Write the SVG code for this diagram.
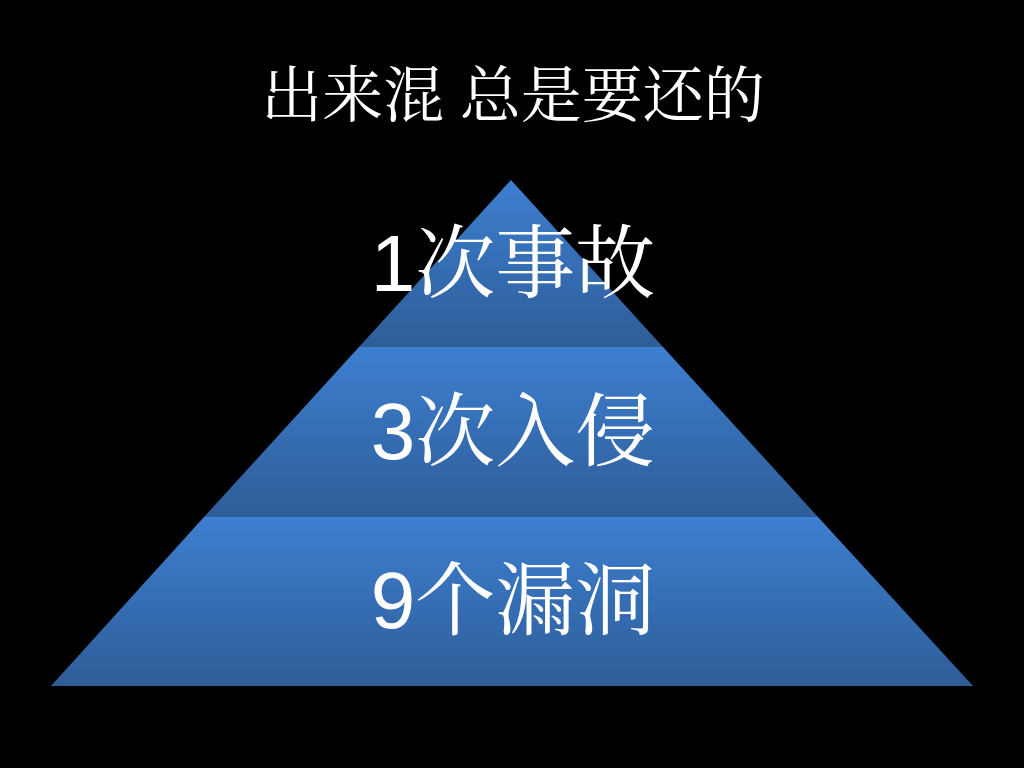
<svg xmlns="http://www.w3.org/2000/svg" width="1024" height="768" viewBox="0 0 1024 768">
<defs>
<linearGradient id="band" x1="0" y1="0" x2="0" y2="1">
<stop offset="0" stop-color="#3d7fd0"/>
<stop offset="1" stop-color="#2e5d98"/>
</linearGradient>
<style>
.t{fill:#ffffff;font-family:"Noto Serif CJK SC","Liberation Serif","Noto Sans CJK SC",serif;text-anchor:middle}
.lbl{font-family:"Liberation Sans","Noto Serif CJK SC","Noto Sans CJK SC",sans-serif;font-size:80px}
.band{fill:url(#band)}
</style>
</defs>
<rect width="1024" height="768" fill="#000"/>
<text class="t" x="513" y="117" font-size="61">出来混 总是要还的</text>
<g id="tier1">
<polygon class="band" points="511,180 663,347 359,347"/>
<text class="t lbl" x="513" y="291">1次事故</text>
</g>
<g id="tier2">
<polygon class="band" points="359,347 663,347 818,517 204,517"/>
<text class="t lbl" x="513" y="459">3次入侵</text>
</g>
<g id="tier3">
<polygon class="band" points="204,517 818,517 973,686 51,686"/>
<text class="t lbl" x="513" y="628">9个漏洞</text>
</g>
<g id="connectors"/>
</svg>
